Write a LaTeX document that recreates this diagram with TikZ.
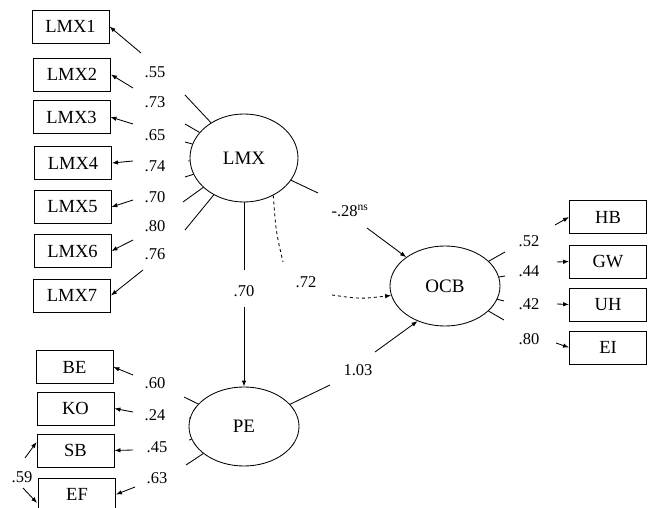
\documentclass[tikz,border=0pt]{standalone}
\usepackage{fontspec}
\setmainfont{Liberation Serif}
\usetikzlibrary{arrows.meta,shapes.geometric}
\begin{document}
\begin{tikzpicture}[x=1pt,y=-1pt,line width=0.85pt,
  box/.style={draw,minimum width=77pt,minimum height=33pt,inner sep=0pt,font=\fontsize{18.5}{20}\selectfont},
  lat/.style={draw,ellipse,inner sep=0pt,font=\fontsize{19}{21}\selectfont},
  lab/.style={inner sep=0pt,font=\fontsize{16.5}{18}\selectfont},
  arr/.style={-{Latex[length=6pt,width=4.5pt]}}]
\useasboundingbox (0,0) rectangle (649,508);
% latent variables
\node[lat,minimum width=108pt,minimum height=88pt] (LMX) at (244,158) {LMX};
\node[lat,minimum width=110pt,minimum height=80pt] (OCB) at (445,286) {OCB};
\node[lat,minimum width=110pt,minimum height=79pt] (PE) at (244,426.5) {PE};
% LMX indicators
\node[box] (L1) at (70.5,26.5) {LMX1};
\node[box] (L2) at (72,74.5) {LMX2};
\node[box] (L3) at (71.5,117) {LMX3};
\node[box] (L4) at (73,163) {LMX4};
\node[box] (L5) at (72.5,207) {LMX5};
\node[box] (L6) at (72.5,251) {LMX6};
\node[box] (L7) at (72,295.5) {LMX7};
% PE indicators
\node[box] (BE) at (74.5,367) {BE};
\node[box] (KO) at (75.5,408.5) {KO};
\node[box] (SB) at (75.5,450.5) {SB};
\node[box] (EF) at (77,494.5) {EF};
% OCB indicators
\node[box] (HB) at (608,217) {HB};
\node[box] (GW) at (608,261.5) {GW};
\node[box] (UH) at (608,304.5) {UH};
\node[box] (EI) at (608,347.5) {EI};
% LMX loadings
\foreach \i/\sx/\sy/\ax/\ay/\ly/\v in {1/185/95/141/53/72/.55, 2/185/124/133/88/102/.73, 3/185/142/133/124/135/.65, 4/188/161/133/161/166/.74, 5/185/177/133/200/197/.70, 6/183/202/133/240/226/.80, 7/185/230/143/270/254/.76}{
  \coordinate (ls\i) at (\sx,\sy);
  \coordinate (la\i) at (\ax,\ay);
  \node[lab] (ll\i) at (155,\ly) {\v};
  \draw (ls\i) -- (LMX);
  \draw[arr] (la\i) -- (L\i.east);
}
% PE loadings
\foreach \n/\sx/\sy/\ax/\ay/\lx/\ly/\v in {BE/184/397/133/375/155/383/.60, KO/189/418/133/412/155/415/.24, SB/189/440/133/450/157/447/.45, EF/186/465/135/487/157/478/.63}{
  \coordinate (ps\n) at (\sx,\sy);
  \coordinate (pa\n) at (\ax,\ay);
  \node[lab] (pl\n) at (\lx,\ly) {\v};
  \draw (ps\n) -- (PE);
  \draw[arr] (pa\n) -- (\n.east);
}
% OCB loadings
\foreach \n/\sx/\sy/\ax/\ay/\ly/\v in {HB/505/252/555/225/241/.52, GW/505/276/557/262/271/.44, UH/504/301/557/304/304/.42, EI/504/320/556/343/339/.80}{
  \coordinate (os\n) at (\sx,\sy);
  \coordinate (oa\n) at (\ax,\ay);
  \node[lab] (ol\n) at (529,\ly) {\v};
  \draw (os\n) -- (OCB);
  \draw[arr] (oa\n) -- (\n.west);
}
% covariance SB-EF
\node[lab] (c59) at (22,477) {.59};
\coordinate (c59a) at (25,458);
\coordinate (c59b) at (23,488);
\draw[arr] (c59a) -- ([yshift=8.5pt]SB.west);
\draw[arr] (c59b) -- ([yshift=-8.5pt,xshift=-1pt]EF.west);
% LMX -> OCB
\coordinate (s1) at (318,193);
\coordinate (a1) at (367,228);
\draw (LMX) -- (s1);
\node[lab] (p1) at (350,211) {-.28\textsuperscript{ns}};
\draw[arr] (a1) -- (OCB);
% LMX -> PE
\coordinate (v1) at (244,270);
\coordinate (v2) at (244,307);
\draw (LMX.south) -- (v1);
\node[lab] (p2) at (244,291) {.70};
\draw[arr] (v2) -- (PE.north);
% PE -> OCB
\coordinate (s3) at (330,385);
\coordinate (a3) at (375,352);
\draw (PE) -- (s3);
\node[lab] (p3) at (358,370) {1.03};
\draw[arr] (a3) -- (OCB.232);
% dashed indirect path
\coordinate (d1) at (283,262);
\coordinate (d2) at (332,295);
\draw[dashed] (LMX.-52) .. controls (276,232) .. (d1);
\node[lab] (p4) at (306,282) {.72};
\draw[dashed,arr] (d2) .. controls (360,299) .. (OCB.190);
\end{tikzpicture}
\end{document}
